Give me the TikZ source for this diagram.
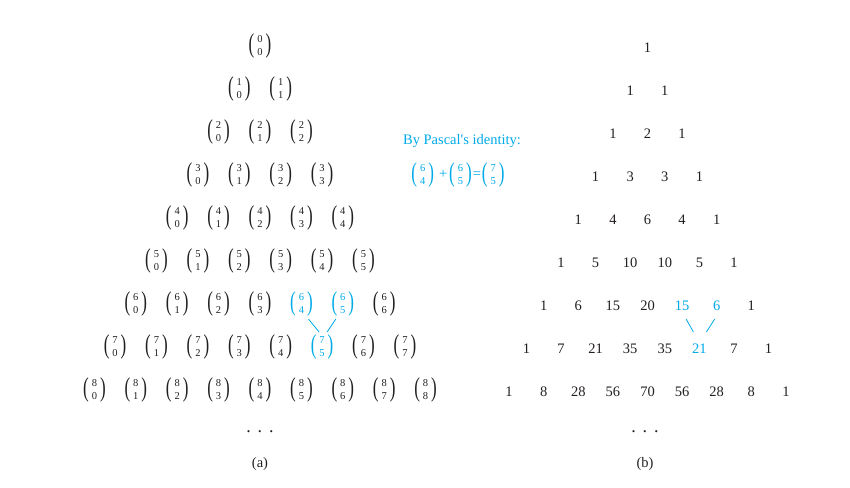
\documentclass[tikz,border=0pt]{standalone}
\usepackage{amsmath}
\usepackage{graphicx}
\usepackage{fontspec}
\setmainfont{Liberation Serif}
\definecolor{pblue}{RGB}{0,170,232}
\definecolor{ink}{RGB}{35,31,32}
\newcommand{\bpar}[1]{\vcenter{\hbox{\scalebox{1}[1.6]{\fontsize{17}{17}\selectfont#1}}}}
\newcommand{\bnm}[2]{$\bpar{(}\hspace{3pt}\vcenter{\hbox{\fontsize{10.5}{13.3}\selectfont\begin{tabular}{@{}c@{}}#1\\#2\end{tabular}}}\hspace{3pt}\bpar{)}$}
\begin{document}
\begin{tikzpicture}[x=1pt,y=-1pt,
  every node/.style={inner sep=0pt,text=ink,font=\fontsize{14.5}{17}\selectfont},
  dots/.style={font=\fontsize{18}{20}\selectfont},
  link/.style={draw=pblue,line width=0.8pt}]
\useasboundingbox (0,0) rectangle (850,487);
% (a) binomial triangle
\foreach \n in {0,...,8}{
  \foreach \k in {0,...,\n}{
    \def\col{ink}
    \ifnum\n=6 \ifnum\k=4 \def\col{pblue}\fi \ifnum\k=5 \def\col{pblue}\fi\fi
    \ifnum\n=7 \ifnum\k=5 \def\col{pblue}\fi\fi
    \node[text=\col] (a-\n-\k) at ({260+41.4*(\k-\n/2)},{46+43*\n}) {\bnm{\n}{\k}};
  }
}
\node[dots] (adots) at (260,432) {.\hspace{7pt}.\hspace{7pt}.};
\node (alab) at (260,464) {(a)};
\draw[link] ([shift={(7,15)}]a-6-4.center) -- ([shift={(-3,-15)}]a-7-5.center);
\draw[link] ([shift={(-7,15)}]a-6-5.center) -- ([shift={(5,-15)}]a-7-5.center);
% identity
\node[text=pblue] (idtext) at (462,141) {By Pascal\textquotesingle s identity:};
\node[text=pblue] (ideq) at (458,175) {\bnm{6}{4}\hspace{5pt}+\hspace{2pt}\bnm{6}{5}\hspace{1pt}=\hspace{1pt}\bnm{7}{5}};
% (b) numeric triangle
\foreach \row [count=\n from 0] in {{1},{1,1},{1,2,1},{1,3,3,1},{1,4,6,4,1},{1,5,10,10,5,1},{1,6,15,20,15,6,1},{1,7,21,35,35,21,7,1},{1,8,28,56,70,56,28,8,1}}{
  \foreach \v [count=\k from 0] in \row {
    \def\col{ink}
    \ifnum\n=6 \ifnum\k=4 \def\col{pblue}\fi \ifnum\k=5 \def\col{pblue}\fi\fi
    \ifnum\n=7 \ifnum\k=5 \def\col{pblue}\fi\fi
    \node[text=\col] (b-\n-\k) at ({647.5+34.6*(\k-\n/2)},{48+43*\n}) {\v};
  }
}
\node[dots] (bdots) at (645,432) {.\hspace{7pt}.\hspace{7pt}.};
\node (blab) at (645,464) {(b)};
\draw[link] ([shift={(4,13)}]b-6-4.center) -- ([shift={(-6,-17)}]b-7-5.center);
\draw[link] ([shift={(-2,13)}]b-6-5.center) -- ([shift={(7,-17)}]b-7-5.center);
\end{tikzpicture}
\end{document}
